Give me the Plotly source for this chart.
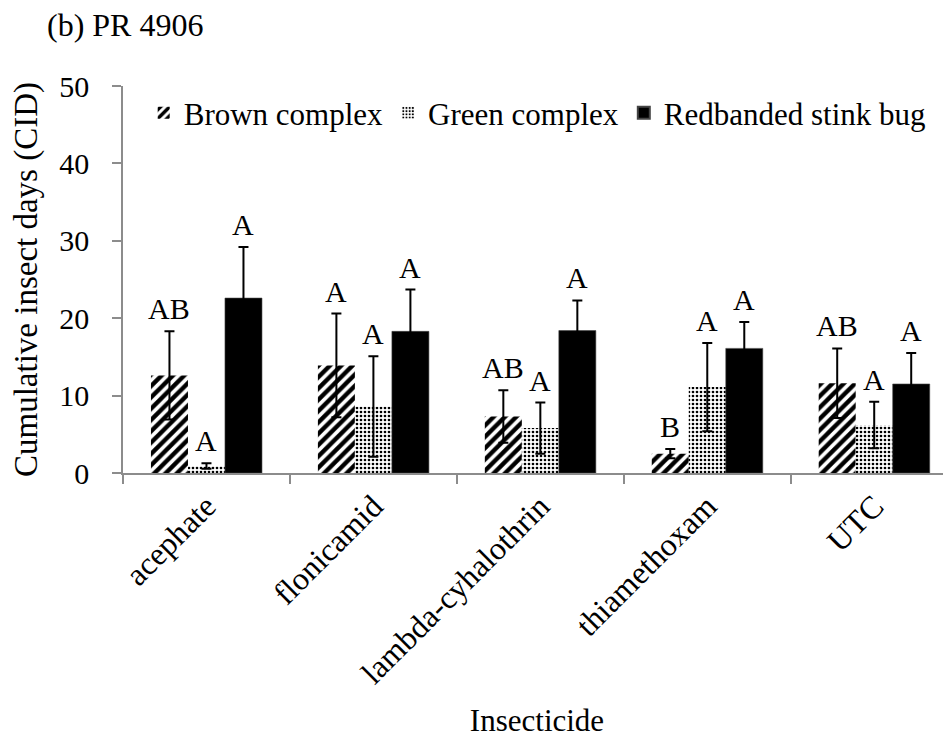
import plotly.graph_objects as go

FONT = "Liberation Serif, Times New Roman, serif"
AXIS_GREY = "#8c8c8c"

# page body has an 8px margin, so the figure is drawn 8px smaller and shifted
PAGE_PAD = 8
W, H = 951 - PAGE_PAD, 738 - PAGE_PAD

insecticides = ["acephate", "flonicamid", "lambda-cyhalothrin", "thiamethoxam", "UTC"]

brown = [12.6, 13.9, 7.3, 2.5, 11.6]
brown_err = [5.7, 6.7, 3.4, 0.6, 4.5]
brown_letters = ["AB", "A", "AB", "B", "AB"]

green = [0.9, 8.6, 5.8, 11.1, 6.2]
green_err = [0.35, 6.5, 3.3, 5.7, 3.0]
green_letters = ["A", "A", "A", "A", "A"]

redbanded = [22.6, 18.3, 18.4, 16.1, 11.5]
redbanded_err = [6.6, 5.4, 3.9, 3.4, 4.0]
redbanded_letters = ["A", "A", "A", "A", "A"]

BARGAP = 0.335
BAR_W = (1 - BARGAP) / 3

series = [
    ("Brown complex", brown, brown_err, brown_letters,
     dict(shape="/", size=8, solidity=0.55, fgcolor="black", bgcolor="white", fgopacity=1)),
    ("Green complex", green, green_err, green_letters,
     dict(shape=".", size=4, solidity=0.35, fgcolor="black", bgcolor="white", fgopacity=1)),
    ("Redbanded stink bug", redbanded, redbanded_err, redbanded_letters, None),
]

fig = go.Figure()
annotations = []

for k, (name, vals, errs, letters, pattern) in enumerate(series):
    marker = dict(color="black" if pattern is None else "white",
                  line=dict(width=0.6 if pattern is None else 0, color="#444"))
    if pattern:
        marker["pattern"] = pattern
    fig.add_trace(go.Bar(
        x=insecticides,
        y=vals,
        name=name,
        marker=marker,
        error_y=dict(type="data", array=errs, visible=True,
                     color="black", thickness=2, width=5),
    ))
    for i, (v, e, lab) in enumerate(zip(vals, errs, letters)):
        annotations.append(dict(
            x=i + (k - 1) * BAR_W, y=v + e, xref="x", yref="y",
            text=lab, showarrow=False, yanchor="bottom", yshift=4,
            font=dict(family=FONT, size=30, color="black"),
        ))

fig.update_layout(
    width=W,
    height=H,
    margin=dict(l=123 - PAGE_PAD, r=0, t=86 - PAGE_PAD, b=265),
    paper_bgcolor="white",
    plot_bgcolor="white",
    font=dict(family=FONT, size=30, color="black"),
    barmode="group",
    bargap=BARGAP,
    bargroupgap=0,
    title=dict(text="(b) PR 4906", x=(47 - PAGE_PAD) / W, xanchor="left", xref="container",
               y=1 - (25 - PAGE_PAD) / H, yanchor="middle", yref="container",
               font=dict(family=FONT, size=32, color="black")),
    legend=dict(orientation="h", x=0.025, xanchor="left", y=0.93, yanchor="middle",
                bgcolor="rgba(0,0,0,0)", font=dict(family=FONT, size=31, color="black"),
                itemsizing="constant"),
    xaxis=dict(
        range=[-0.5, 4.46],
        showline=True, linecolor=AXIS_GREY, linewidth=1.5,
        ticks="outside", tickson="boundaries", ticklen=9, tickcolor=AXIS_GREY, tickwidth=1.5,
        tickangle=-45,
        tickfont=dict(family=FONT, size=32, color="black"),
        title=dict(text="Insecticide", standoff=22,
                   font=dict(family=FONT, size=31, color="black")),
        showgrid=False, zeroline=False,
    ),
    yaxis=dict(
        range=[0, 50], dtick=10,
        showline=True, linecolor=AXIS_GREY, linewidth=1.5,
        ticks="outside", ticklen=9, tickcolor=AXIS_GREY, tickwidth=1.5,
        ticklabelstandoff=17,
        tickfont=dict(family=FONT, size=30, color="black"),
        title=dict(text="Cumulative insect days (CID)", standoff=16,
                   font=dict(family=FONT, size=33, color="black")),
        showgrid=False, zeroline=False,
    ),
    annotations=annotations,
)

fig.write_html("out.html")
